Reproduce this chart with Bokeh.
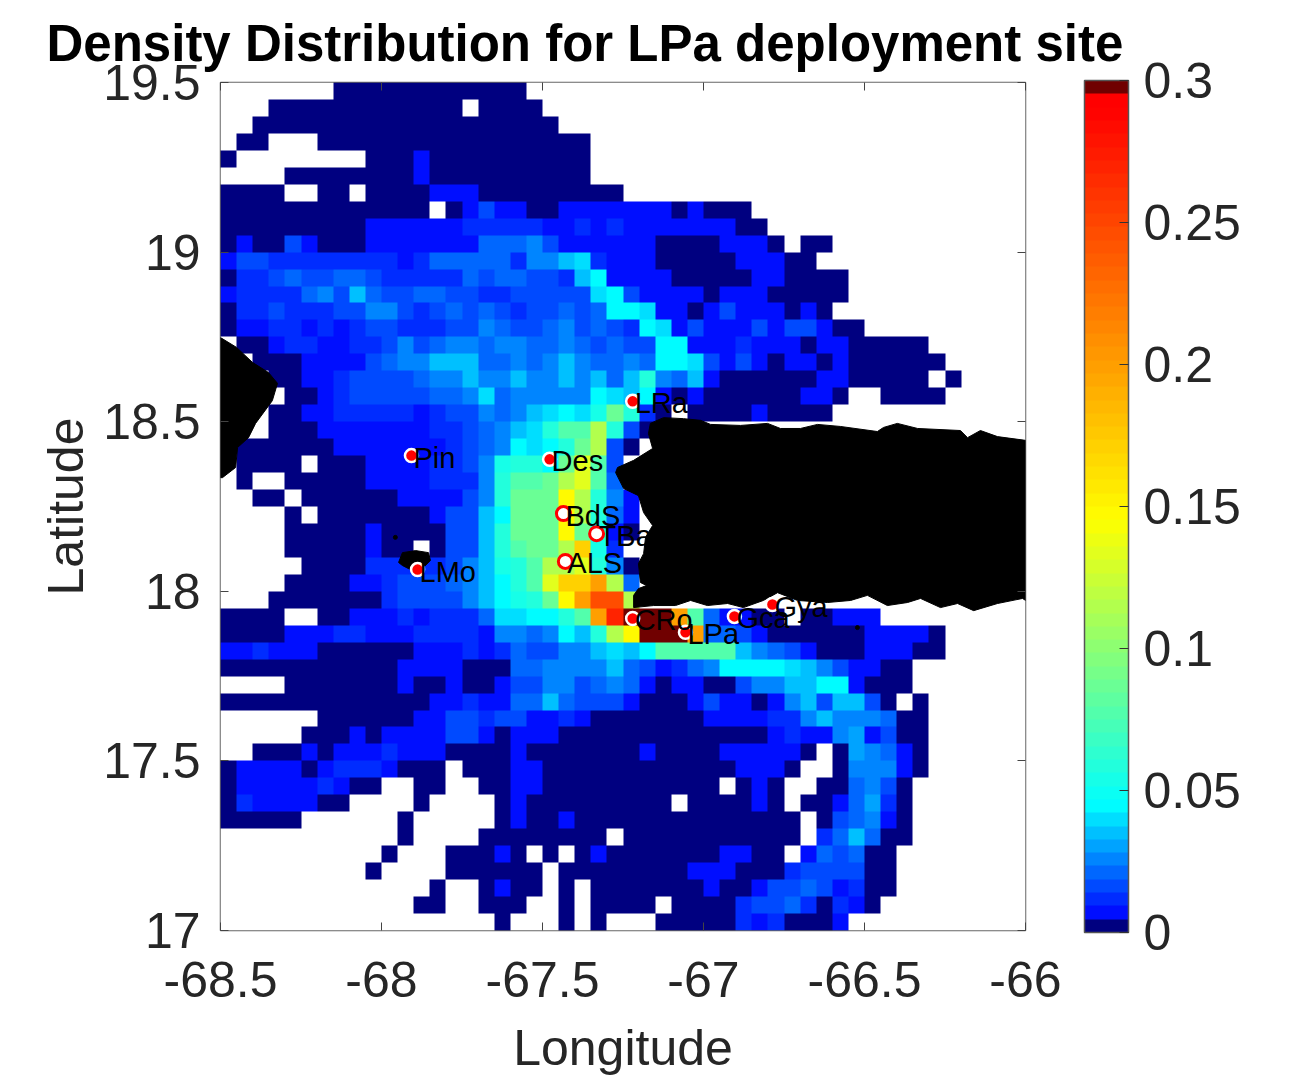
from bokeh.plotting import figure
from bokeh.models import (LinearColorMapper, ColorBar, FixedTicker, Range1d, LinearAxis, Title)
from bokeh.core.properties import value
from bokeh.embed import file_html
from bokeh.resources import INLINE
import numpy as np

FONT = "Liberation Sans"
TXT = "#262626"

title_text = "Density Distribution for LPa deployment site"
x_label = "Longitude"
y_label = "Latitude"
x_ticks = [-68.5, -68, -67.5, -67, -66.5, -66]
x_tick_labels = ["-68.5", "-68", "-67.5", "-67", "-66.5", "-66"]
y_ticks = [17, 17.5, 18, 18.5, 19, 19.5]
y_tick_labels = ["17", "17.5", "18", "18.5", "19", "19.5"]
cb_ticks = [0, 0.05, 0.1, 0.15, 0.2, 0.25, 0.3]
cb_tick_labels = ["0", "0.05", "0.1", "0.15", "0.2", "0.25", "0.3"]

# density value of each letter used in the rows below ('.' = no data)
density_codes = {
    "0": 0.002, "1": 0.007, "A": 0.012, "2": 0.016, "B": 0.019, "3": 0.022,
    "C": 0.026, "4": 0.029, "D": 0.033, "5": 0.036, "E": 0.041, "6": 0.046,
    "F": 0.053, "7": 0.060, "G": 0.075, "8": 0.085, "9": 0.115, "a": 0.135,
    "b": 0.148, "c": 0.170, "d": 0.200, "e": 0.245, "f": 0.270, "g": 0.310,
}

# 50 x 50 cells of 0.05 degrees, top row = 19.45-19.5 N, five columns per group
density_rows = [
    "..... ..000 00000 0000.",
    "...00 00000 00000 .0000",
    "..000 00000 00000 00000 0",
    ".00.. .0000 00000 00000 000",
    "0.... ....0 00100 00000 000",
    "....0 00000 00100 00000 000",
    "0000. .00.0 00011 10000 00000",
    "00000 00000 000.0 12110 01111 11101 000",
    "00000 00001 11111 AAAAA 11A1A 11111 1100",
    "01002 10001 11111 1BBBC 21111 11000 01110 .00",
    "122AA AAAAA A1ABB BBBAC CDEA1 11000 00111 00",
    "0AA23 22332 AAAAA 32332 2A561 11100 00011 0000",
    "1AAAA 3C2D3 22332 2AA22 222E6 21111 01110 0000",
    "0AA2A AA22C C2A23 232A2 23236 6E110 12111 010",
    "011AA 1A1A2 2AAA2 2C322 3C232 A6E12 11121 22100",
    ".001A A11AA 2C23C C3CC3 3C323 22661 11A11 10110 0000",
    "..000 11112 3CCDD 533C3 C5C33 C366E 21210 11010 00000",
    "...00 11A22 223CC 5CCDC CDCD3 D7C35 10000 00110 0000. 0",
    "....0 01A22 22233 CE3CC CCC6E D6101 00000 0110. .0000",
    "...00 11AAA AA1A2 2C3CD E6EF8 7A0.0 00010 000",
    "...00 01111 111AA 23CDE 7GG97 20",
    ".0000 00111 1111A 23C6E 67892 0",
    ".0000 .0001 111AA 2CF77 68aG2",
    ".0..0 00001 111AA AC7GG 89aG3",
    "..00. 00000 01111 2C788 8b97C 1",
    "....0 .0000 00012 2D688 8b973 1",
    "....0 00001 00002 25788 8b8F1 0",
    "....0 00001 00.02 257G8 89cFA",
    "..... 0000A AAAA2 CDF7G 99a7C 0",
    "....0 00011 A2223 CD67G accd9 3",
    "...00 00000 A2222 C56F7 8bdee 9",
    "0000. .0011 1A1AA A3EE6 67Gdf gggdG 31100 .0011 1",
    "00001 11AA1 11AAA A1CC3 C6579 bgggd 33210 00000 11110",
    "11A11 10000 00111 A1A32 2CCDE D6GGG GG5C3 21000 11100",
    "00000 00000 01111 00033 CCCCD 321A3 C6666 E5C21 100",
    "....0 00000 01001 00122 CC23C 31011 002CC D5661 000",
    "00000 00000 00011 A1133 D3222 10001 21101 CD255 20.0",
    "..... .0000 00112 2A221 1A100 00000 1111A ACDCC C300",
    "..... 00010 11112 21011 10000 00000 00001 A11C4 1200",
    "..000 10111 A1110 00010 00000 01000 01111 10.04 C310",
    "01111 01AAA 1000. 00011 00000 00000 00111 0..0C CC10",
    "01111 1A100 ..00. .0011 00000 00000 0.010 ..003 C20",
    "0A111 100.. ..0.. ..010 00000 000.0 00010 .0013 4A0",
    "00000 ..... .0... ..010 01000 00000 00000 0.023 C10",
    "..... ..... .0... .0000 0000. 00000 00000 0.A3D 300",
    "..... ..... 0...0 0010. 0.010 00000 01100 .1323 00",
    "..... ....0 ....0 00000 .0000 00001 11000 A2222 00",
    "..... ..... ...0. .0100 .0.00 00000 10012 2321A 00",
    "..... ..... ..00. .000. .0.00 00.00 00A22 3A0A1 0",
    "..... ..... ..... ..0.. .0.0. ..000 00A1A 0001",
]

# land outlines, degrees
pr_lon = [-66.0, -66.087, -66.14, -66.18, -66.202, -66.335, -66.398, -66.441, -66.46, -66.575,
          -66.646, -66.699, -66.761, -66.801, -66.885, -66.978, -67.009, -67.062, -67.124, -67.165,
          -67.171, -67.158, -67.217, -67.267, -67.273, -67.248, -67.202, -67.186, -67.158, -67.18,
          -67.186, -67.202, -67.196, -67.177, -67.202, -67.217, -67.217, -67.155, -67.087, -67.04,
          -66.988, -66.925, -66.876, -66.814, -66.77, -66.708, -66.615, -66.543, -66.491, -66.429,
          -66.366, -66.326, -66.264, -66.211, -66.161, -66.087, -66.009, -66.0]
pr_lat = [18.445, 18.456, 18.474, 18.453, 18.474, 18.48, 18.495, 18.483, 18.471, 18.486,
          18.492, 18.48, 18.48, 18.495, 18.489, 18.492, 18.504, 18.509, 18.512, 18.495,
          18.465, 18.421, 18.386, 18.365, 18.35, 18.303, 18.282, 18.232, 18.194, 18.159,
          18.111, 18.082, 18.026, 18.017, 18.008, 17.988, 17.952, 17.958, 17.958, 17.973,
          17.958, 17.964, 17.952, 17.973, 17.996, 17.973, 17.967, 17.973, 17.988, 17.958,
          17.967, 17.979, 17.952, 17.964, 17.943, 17.964, 17.979, 17.973]
hisp_lon = [-68.5, -68.45, -68.401, -68.351, -68.323, -68.339, -68.391, -68.413, -68.447, -68.453, -68.494, -68.5]
hisp_lat = [18.748, 18.719, 18.675, 18.645, 18.613, 18.562, 18.495, 18.453, 18.424, 18.365, 18.335, 18.335]
mona_lon = [-67.947, -67.935, -67.894, -67.854, -67.848, -67.87, -67.904, -67.935]
mona_lat = [18.085, 18.114, 18.12, 18.114, 18.091, 18.07, 18.061, 18.076]
islet_lon = [-67.957, -66.522]
islet_lat = [18.159, 17.893]

# sites
site_names = ["LRa", "Pin", "Des", "LMo", "CRo", "LPa", "Gca", "Gya"]
site_lon = [-67.22, -67.907, -67.478, -67.888, -67.22, -67.056, -66.904, -66.786]
site_lat = [18.56, 18.40, 18.389, 18.064, 17.92, 17.879, 17.926, 17.961]
hollow_names = ["BdS", "TBa", "ALS"]
hollow_lon = [-67.435, -67.332, -67.429]
hollow_lat = [18.229, 18.17, 18.088]

# colour map: 64 bands, navy + jet stretched + dark red
stops_v = [0.0047, 0.045, 0.095, 0.145, 0.29]
stops_r = [0, 0, 128, 255, 255]
stops_g = [0, 255, 255, 255, 0]
stops_b = [255, 255, 128, 0, 0]
mids = (np.arange(64) + 0.5) * 0.3 / 64
palette = ["#%02x%02x%02x" % (int(np.interp(m, stops_v, stops_r)),
                              int(np.interp(m, stops_v, stops_g)),
                              int(np.interp(m, stops_v, stops_b))) for m in mids]
palette[0] = "#000080"
palette[-1] = "#700000"

rows = []
for row in density_rows:
    chars = row.replace(" ", "").ljust(50, ".")
    rows.append([density_codes.get(ch, np.nan) for ch in chars[:50]])
grid = np.array(rows, dtype=float)[::-1]

mapper = LinearColorMapper(palette=palette, low=0, high=0.3, nan_color="#ffffff")

p = figure(frame_width=805, frame_height=848, output_backend="svg", toolbar_location=None,
           x_range=Range1d(-68.5, -66), y_range=Range1d(17, 19.5),
           min_border_left=220, min_border_right=240, min_border_top=82, min_border_bottom=10,
           background_fill_color="white", x_axis_label=x_label, y_axis_label=y_label)
p.grid.visible = False
p.outline_line_color = "#666666"
p.outline_line_width = 1.5

p.title = Title(text=title_text, text_font=FONT, text_font_size="51px", text_font_style="bold",
                text_color="black", align="left", offset=-174, standoff=21)

p.image(image=[grid], x=-68.5, y=17, dw=2.5, dh=2.5, color_mapper=mapper)

p.patch(pr_lon, pr_lat, fill_color="black", line_color="black")
p.patch(hisp_lon, hisp_lat, fill_color="black", line_color="black")
p.patch(mona_lon, mona_lat, fill_color="black", line_color="black")
p.scatter(islet_lon, islet_lat, size=4, color="black")

p.scatter(site_lon, site_lat, size=13, fill_color="red", line_color="white", line_width=2.5)
p.scatter(hollow_lon, hollow_lat, size=14, fill_color="white", line_color="red", line_width=3)

for names, lons, lats in ((site_names, site_lon, site_lat), (hollow_names, hollow_lon, hollow_lat)):
    p.text(lons, lats, text=names, x_offset=2, y_offset=2, text_font=value(FONT),
           text_font_size="29px", text_color="black", text_align="left", text_baseline="middle")


def style(ax, ticks, labels, show):
    ax.ticker = FixedTicker(ticks=ticks)
    ax.major_label_overrides = {t: (l if show else "") for t, l in zip(ticks, labels)}
    ax.minor_tick_line_color = None
    ax.major_tick_in = 8
    ax.major_tick_out = 0
    ax.major_tick_line_color = "#444444"
    ax.axis_line_color = None
    ax.major_label_text_font = FONT
    ax.major_label_text_font_size = "50px"
    ax.major_label_text_color = TXT
    ax.axis_label_text_font = FONT
    ax.axis_label_text_font_size = "50px"
    ax.axis_label_text_font_style = "normal"
    ax.axis_label_text_color = TXT


style(p.xaxis[0], x_ticks, x_tick_labels, True)
style(p.yaxis[0], y_ticks, y_tick_labels, True)
p.xaxis[0].major_label_standoff = 31
p.yaxis[0].major_label_standoff = 20
p.xaxis[0].axis_label_standoff = 20
p.yaxis[0].axis_label_standoff = 6

top = LinearAxis(major_label_text_font_size="0px")
right = LinearAxis(major_label_text_font_size="0px")
p.add_layout(top, "above")
p.add_layout(right, "right")
for ax, t, l in ((top, x_ticks, x_tick_labels), (right, y_ticks, y_tick_labels)):
    style(ax, t, l, False)
    ax.major_label_text_font_size = "1px"
    ax.major_label_standoff = 0

bar = ColorBar(color_mapper=mapper, ticker=FixedTicker(ticks=cb_ticks),
               major_label_overrides=dict(zip(cb_ticks, cb_tick_labels)),
               width=44, height=852, padding=0, location=(59, -2),
               bar_line_color="#555555", bar_line_width=1.5,
               major_tick_in=9, major_tick_line_color="#333333", minor_tick_line_color=None,
               major_label_text_font=FONT, major_label_text_font_size="50px",
               major_label_text_color=TXT, label_standoff=15)
p.add_layout(bar, "right")

open("out.html", "w").write(file_html(p, INLINE))
